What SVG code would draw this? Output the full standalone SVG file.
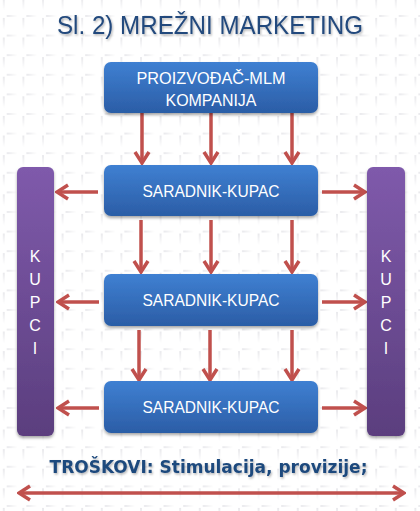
<svg xmlns="http://www.w3.org/2000/svg" width="420" height="511" viewBox="0 0 420 511">
  <defs>
    <pattern id="bg" width="19.6" height="19.6" patternUnits="userSpaceOnUse" patternTransform="translate(1.8,14)">
      <polygon points="1,4 3,4 2,16" fill="#e9e9ec"/>
      <polygon points="5,1 5,3 16,2" fill="#e9e9ec"/>
    </pattern>
    <linearGradient id="blueG" x1="0" y1="0" x2="0" y2="1">
      <stop offset="0" stop-color="#3F80D2"/>
      <stop offset="1" stop-color="#2B5DA6"/>
    </linearGradient>
    <linearGradient id="purpleG" x1="0" y1="0" x2="0" y2="1">
      <stop offset="0" stop-color="#7F5AAB"/>
      <stop offset="1" stop-color="#5B3E7E"/>
    </linearGradient>
    <filter id="shadow" x="-10%" y="-10%" width="120%" height="130%">
      <feDropShadow dx="0" dy="2" stdDeviation="1.5" flood-color="#000" flood-opacity="0.35"/>
    </filter>
    <filter id="tshadow" x="-5%" y="-20%" width="110%" height="150%">
      <feDropShadow dx="1" dy="1.5" stdDeviation="1" flood-color="#000" flood-opacity="0.3"/>
    </filter>
    <marker id="ah" viewBox="-13 -9 15 18" markerWidth="15" markerHeight="18" refX="0" refY="0" orient="auto-start-reverse" markerUnits="userSpaceOnUse">
      <path d="M-11,-7 L0,0 L-11,7" fill="none" stroke="#C0504D" stroke-width="3.5" stroke-linejoin="miter" stroke-linecap="butt"/>
    </marker>
    <style>
      .box { fill: url(#blueG); filter: url(#shadow); }
      .bar { fill: url(#purpleG); filter: url(#shadow); }
      .bt { font-family: "Liberation Sans", Arial, sans-serif; font-size: 16.5px; fill: #ffffff; text-anchor: middle; }
      .kt { font-family: "Liberation Sans", Arial, sans-serif; font-size: 16px; fill: #ffffff; text-anchor: middle; }
      .arr { stroke: #C0504D; stroke-width: 3.5; fill: none; marker-end: url(#ah); }
    </style>
  </defs>

  <rect width="420" height="511" fill="#ffffff"/>
  <rect width="420" height="511" fill="url(#bg)"/>

  <text id="title" x="210" y="34" font-family="Liberation Sans, Arial, sans-serif" font-size="26" fill="#244A7D" text-anchor="middle" textLength="306" lengthAdjust="spacingAndGlyphs" filter="url(#tshadow)">Sl. 2) MREŽNI MARKETING</text>

  <g id="connectors">
    <line class="arr" x1="142" y1="113" x2="142" y2="163"/>
    <line class="arr" x1="211" y1="113" x2="211" y2="163"/>
    <line class="arr" x1="292" y1="113" x2="292" y2="163"/>

    <line class="arr" x1="141" y1="220" x2="141" y2="272"/>
    <line class="arr" x1="211" y1="220" x2="211" y2="272"/>
    <line class="arr" x1="292" y1="220" x2="292" y2="272"/>

    <line class="arr" x1="139" y1="330" x2="139" y2="380"/>
    <line class="arr" x1="210" y1="330" x2="210" y2="380"/>
    <line class="arr" x1="292" y1="330" x2="292" y2="380"/>

    <line class="arr" x1="98" y1="192" x2="57" y2="192"/>
    <line class="arr" x1="322" y1="192" x2="365" y2="192"/>
    <line class="arr" x1="99" y1="302" x2="58" y2="302"/>
    <line class="arr" x1="322" y1="302" x2="365" y2="302"/>
    <line class="arr" x1="99" y1="408" x2="58" y2="408"/>
    <line class="arr" x1="322" y1="408" x2="365" y2="408"/>

    <line class="arr" x1="19" y1="493" x2="404" y2="493" marker-start="url(#ah)"/>
  </g>

  <g id="proizvodjac">
    <rect class="box" x="104" y="62" width="214" height="51" rx="7"/>
    <text class="bt" x="211" y="84" textLength="149" lengthAdjust="spacingAndGlyphs">PROIZVOĐAČ-MLM</text>
    <text class="bt" x="211" y="106" textLength="91" lengthAdjust="spacingAndGlyphs">KOMPANIJA</text>
  </g>

  <g id="saradnik1">
    <rect class="box" x="104" y="165" width="214" height="51" rx="7"/>
    <text class="bt" x="211" y="197" textLength="137" lengthAdjust="spacingAndGlyphs">SARADNIK-KUPAC</text>
  </g>

  <g id="saradnik2">
    <rect class="box" x="104" y="274" width="214" height="52" rx="7"/>
    <text class="bt" x="211" y="306" textLength="137" lengthAdjust="spacingAndGlyphs">SARADNIK-KUPAC</text>
  </g>

  <g id="saradnik3">
    <rect class="box" x="104" y="381" width="214" height="52" rx="7"/>
    <text class="bt" x="211" y="413" textLength="137" lengthAdjust="spacingAndGlyphs">SARADNIK-KUPAC</text>
  </g>

  <g id="kupci-left">
    <rect class="bar" x="17" y="167" width="37" height="269" rx="6"/>
    <text class="kt" x="35" y="262">K</text>
    <text class="kt" x="35" y="285">U</text>
    <text class="kt" x="35" y="308">P</text>
    <text class="kt" x="35" y="331">C</text>
    <text class="kt" x="35" y="354">I</text>
  </g>

  <g id="kupci-right">
    <rect class="bar" x="367" y="167" width="38" height="269" rx="6"/>
    <text class="kt" x="386" y="262">K</text>
    <text class="kt" x="386" y="285">U</text>
    <text class="kt" x="386" y="308">P</text>
    <text class="kt" x="386" y="331">C</text>
    <text class="kt" x="386" y="354">I</text>
  </g>

  <text id="troskovi" x="208.5" y="473" font-family="DejaVu Sans, Verdana, sans-serif" font-weight="bold" font-size="17" fill="#1F497D" text-anchor="middle" filter="url(#tshadow)">TROŠKOVI: Stimulacija, provizije;</text>
</svg>
